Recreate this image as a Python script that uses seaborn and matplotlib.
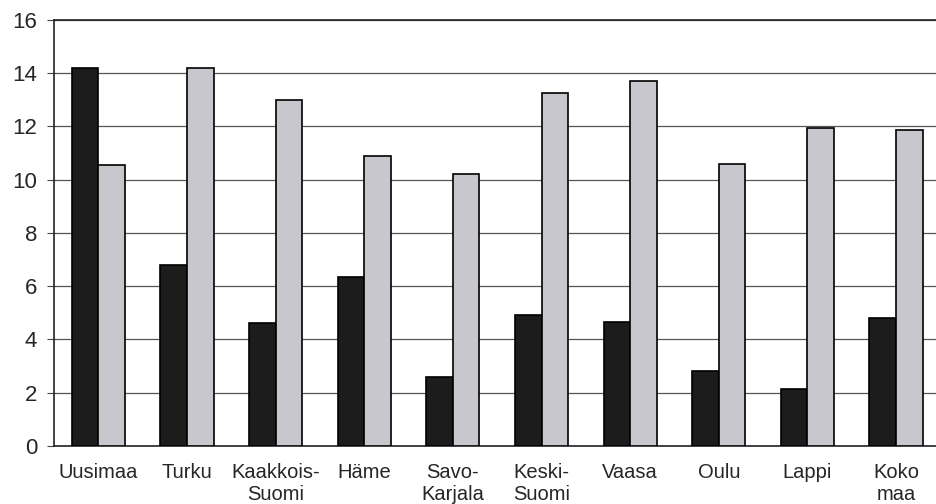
import matplotlib
matplotlib.use("Agg")
import matplotlib.pyplot as plt
import seaborn as sns
import pandas as pd
import numpy as np

# data
regions = ["Uusimaa", "Turku", "Kaakkois-\nSuomi", "Häme", "Savo-\nKarjala",
           "Keski-\nSuomi", "Vaasa", "Oulu", "Lappi", "Koko\nmaa"]
dark_vals = [14.2, 6.8, 4.6, 6.35, 2.6, 4.9, 4.65, 2.8, 2.15, 4.8]
light_vals = [10.55, 14.2, 13.0, 10.9, 10.2, 13.25, 13.7, 10.6, 11.95, 11.85]
series = ["sarja 1", "sarja 2"]
colors = ["#1c1c1c", "#c6c6ce"]

df = pd.DataFrame({
    "alue": regions * 2,
    "arvo": dark_vals + light_vals,
    "sarja": [series[0]] * len(regions) + [series[1]] * len(regions),
})

sns.set_style("white")
plt.rcParams["font.family"] = ["Liberation Sans", "DejaVu Sans"]

fig = plt.figure(figsize=(9.36, 5.04), dpi=100)
ax = fig.add_axes([0.0577, 0.115, 0.947, 0.846])

sns.barplot(data=df, x="alue", y="arvo", hue="sarja", palette=colors,
            width=0.6, edgecolor="black", linewidth=1.2, legend=False, ax=ax,
            zorder=3)

ax.set_ylim(0, 16)
ax.set_xlim(-0.5, len(regions) - 0.5)
ax.set_yticks(np.arange(0, 17, 2))
ax.yaxis.grid(True, color="#555555", linewidth=0.9, zorder=0)
ax.set_axisbelow(True)
ax.set_xlabel("")
ax.set_ylabel("")

# tick marks between categories
ax.set_xticks(np.arange(-0.5, len(regions), 1), minor=True)
ax.tick_params(axis="x", which="major", length=0, labelsize=14.5, pad=12)
ax.tick_params(axis="x", which="minor", length=4, width=0.8, color="#444444")
ax.tick_params(axis="y", length=5, width=0.8, labelsize=16, pad=7,
               color="#444444", left=True)
for lbl in ax.get_xticklabels():
    lbl.set_horizontalalignment("center")
    lbl.set_verticalalignment("top")
    lbl.set_linespacing(1.2)

for side in ["left", "bottom", "top"]:
    ax.spines[side].set_visible(True)
    ax.spines[side].set_color("#222222")
    ax.spines[side].set_linewidth(1.2)
ax.spines["right"].set_visible(False)

fig.savefig("out.png", dpi=100)
